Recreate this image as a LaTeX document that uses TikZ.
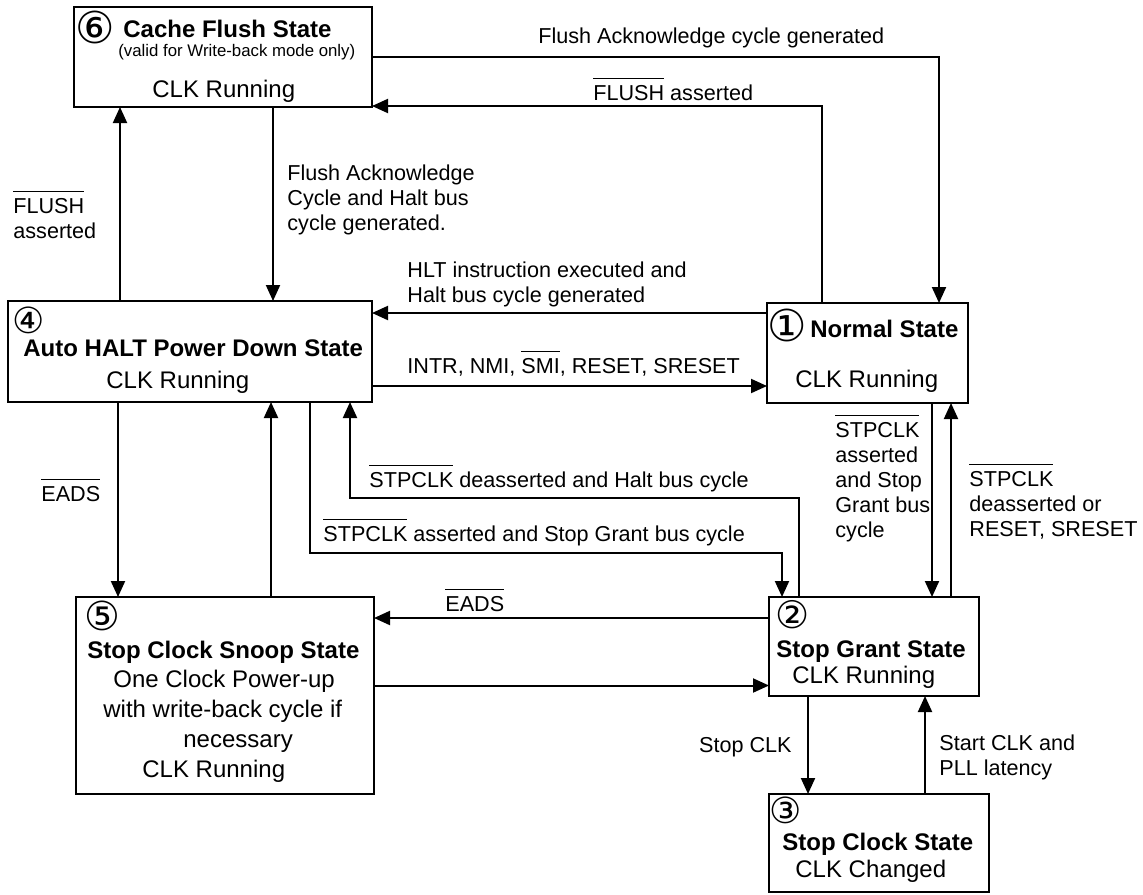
\documentclass[tikz,border=0pt]{standalone}
\usepackage{fontspec}
\setmainfont{Liberation Sans}
\newfontfamily\circfont{DejaVu Sans}
\usetikzlibrary{arrows.meta,calc}
\newcommand{\sigbar}[1]{\vbox{\hrule height 0.8pt\kern 2.9pt\hbox{#1}}}
\newcommand{\lblock}[1]{\begin{tabular}[t]{@{}l@{}}#1\end{tabular}}

\begin{document}
\begin{tikzpicture}[x=0.5pt, y=-0.5pt,
    state/.style={draw, line width=1.15pt, outer sep=0pt, inner sep=0pt},
    arr/.style={line width=1pt, -{Triangle[length=8pt,width=7pt]}},
    txt/.style={anchor=base west, inner sep=0pt, font=\fontsize{12}{15}\selectfont},
    ttl/.style={anchor=base west, inner sep=0pt, font=\fontsize{12}{15}\selectfont\bfseries},
    lbl/.style={anchor=base west, inner sep=0pt, font=\fontsize{10.8}{12.5}\selectfont},
    num/.style={inner sep=0pt, font=\circfont\fontsize{22}{22}\selectfont}]
    \useasboundingbox (0,0) rectangle (1143,894);

    % States
    \node[state, minimum width=149pt, minimum height=50pt] (c6) at (223,57) {};
    \node[state, minimum width=182pt, minimum height=50.5pt] (c4) at (190,351.5) {};
    \node[state, minimum width=100.5pt, minimum height=50pt] (c1) at (867.5,353) {};
    \node[state, minimum width=149pt, minimum height=98.5pt] (c5) at (225,695.5) {};
    \node[state, minimum width=105pt, minimum height=49.5pt] (c2) at (874,646.5) {};
    \node[state, minimum width=110pt, minimum height=49pt] (c3) at (879,843) {};

    % Cache flush
    \node[num] (n6) at (95,27.5) {⑥};
    \node[ttl] (t6) at (123,37) {Cache Flush State};
    \node[txt, font=\fontsize{8.4}{10}\selectfont] (s6) at (118,56) {(valid for Write-back mode only)};
    \node[txt] (r6) at (152,97) {CLK Running};

    % Auto HALT
    \node[num, font=\circfont\fontsize{18}{18}\selectfont] (n4) at (29,320) {④};
    \node[ttl] (t4) at (23,356) {Auto HALT Power Down State};
    \node[txt] (r4) at (106,388) {CLK Running};

    % Normal
    \node[num] (n1) at (787.5,325) {①};
    \node[ttl] (t1) at (810,337) {Normal State};
    \node[txt] (r1) at (795,387) {CLK Running};

    % Snoop
    \node[num, font=\circfont\fontsize{20}{20}\selectfont] (n5) at (102,616) {⑤};
    \node[ttl] (t5) at (87,658) {Stop Clock Snoop State};
    \node[txt] (l5a) at (113,687) {One Clock Power-up};
    \node[txt] (l5b) at (103,717) {with write-back cycle if};
    \node[txt] (l5c) at (183,747) {necessary};
    \node[txt] (r5) at (142,777) {CLK Running};

    % Stop grant
    \node[num, font=\circfont\fontsize{19}{19}\selectfont] (n2) at (793,615) {②};
    \node[ttl] (t2) at (776,657) {Stop Grant State};
    \node[txt] (r2) at (792,683) {CLK Running};

    % Stop clock
    \node[num, font=\circfont\fontsize{18}{18}\selectfont] (n3) at (786,810) {③};
    \node[ttl] (t3) at (782,850) {Stop Clock State};
    \node[txt] (r3) at (795,877) {CLK Changed};

    % Arrows
    \draw[arr] (c6.east) -| ($(c1.north)+(71.5,0)$);
    \draw[arr] ($(c1.north)+(-45.5,0)$) |- ($(c6.south east)+(0,-1)$);
    \draw[arr] ($(c6.south)+(50,0)$) coordinate (p) -- (p |- c4.north);
    \draw[arr] ($(c4.north)+(-70,0)$) coordinate (p) -- (p |- c6.south);
    \draw[arr] ($(c1.west)+(0,-40)$) coordinate (p) -- (p -| c4.east);
    \draw[arr] ($(c4.east)+(0,34.5)$) coordinate (p) -- (p -| c1.west);
    \draw[arr] ($(c4.south)+(-72,0)$) coordinate (p) -- (p |- c5.north);
    \draw[arr] ($(c5.north)+(46,0)$) coordinate (p) -- (p |- c4.south);
    \draw[arr] ($(c4.south)+(120,0)$) |- ($(c2.north)+(-92,-44)$) -- ($(c2.north)+(-92,0)$);
    \draw[arr] ($(c2.north)+(-75,0)$) |- ($(c4.south)+(160,96)$) -- ($(c4.south)+(160,0)$);
    \draw[arr] ($(c1.south)+(64.5,0)$) coordinate (p) -- (p |- c2.north);
    \draw[arr] ($(c2.north)+(77,0)$) coordinate (p) -- (p |- c1.south);
    \draw[arr] ($(c2.west)+(0,-28.5)$) coordinate (p) -- (p -| c5.east);
    \draw[arr] ($(c5.east)+(0,-10)$) coordinate (p) -- (p -| c2.west);
    \draw[arr] ($(c2.south)+(-66,0)$) coordinate (p) -- (p |- c3.north);
    \draw[arr] ($(c3.north)+(46,0)$) coordinate (p) -- (p |- c2.south);

    % Labels
    \node[lbl] (fa) at (538,43) {Flush Acknowledge cycle generated};
    \node[lbl] (fl) at (593,100) {\sigbar{FLUSH} asserted};
    \node[lbl] (fl2) at (13,213) {\lblock{\sigbar{FLUSH}\\asserted}};
    \node[lbl] (fh) at (287,180) {\lblock{Flush Acknowledge\\Cycle and Halt bus\\cycle generated.}};
    \node[lbl] (hlt) at (407,277) {\lblock{HLT instruction executed and\\Halt bus cycle generated}};
    \node[lbl] (intr) at (407,373) {INTR, NMI, \sigbar{SMI}, RESET, SRESET};
    \node[lbl] (ea) at (41,501) {\sigbar{EADS}};
    \node[lbl] (sd) at (369,487) {\sigbar{STPCLK} deasserted and Halt bus cycle};
    \node[lbl] (sa) at (323,541) {\sigbar{STPCLK} asserted and Stop Grant bus cycle};
    \node[lbl] (sa2) at (835,437) {\lblock{\sigbar{STPCLK}\\asserted\\and Stop\\Grant bus\\cycle}};
    \node[lbl] (sd2) at (969,486) {\lblock{\sigbar{STPCLK}\\deasserted or\\RESET, SRESET}};
    \node[lbl] (eb) at (445,611) {\sigbar{EADS}};
    \node[lbl, anchor=base east] (sc) at (792,752) {Stop CLK};
    \node[lbl] (st) at (939,750) {\lblock{Start CLK and\\PLL latency}};
\end{tikzpicture}
\end{document}
